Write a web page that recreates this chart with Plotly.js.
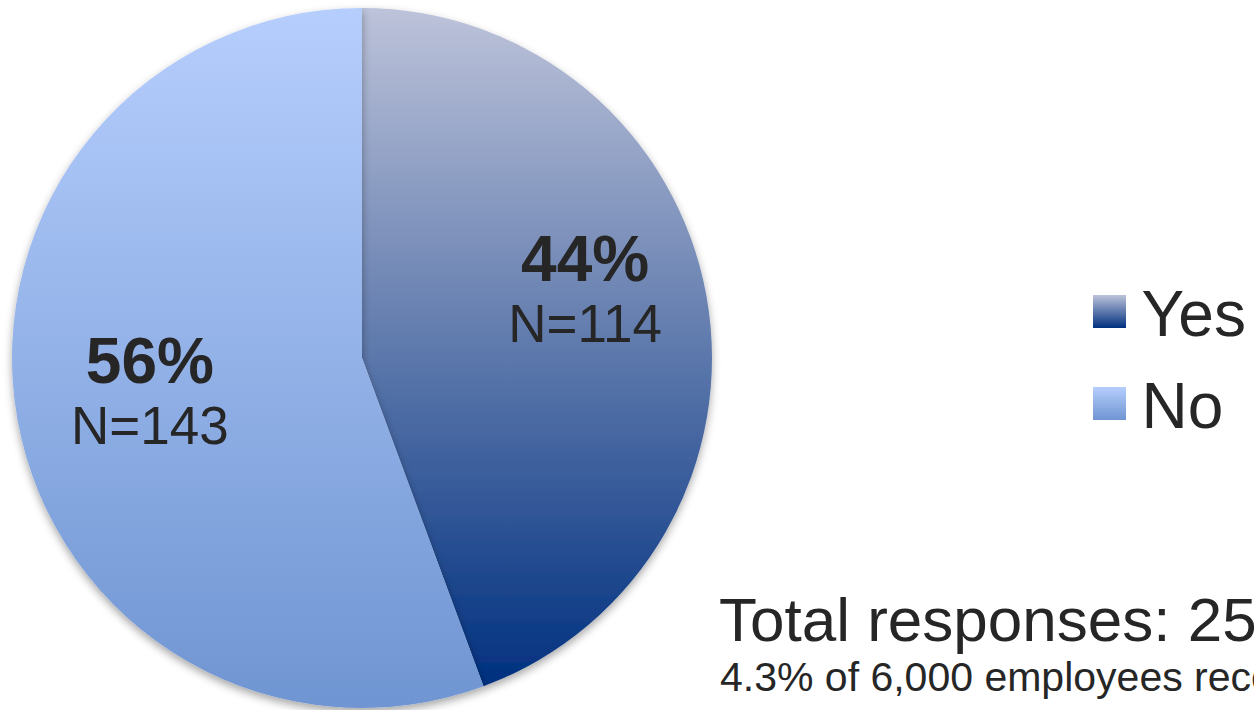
<!DOCTYPE html>
<html>
<head>
<meta charset="utf-8">
<script src="https://cdn.plot.ly/plotly-3.0.1.min.js"></script>
<style>html,body{margin:0;padding:0;background:#fff;overflow:hidden}</style>
</head>
<body>
<div id="chart" style="width:1254px;height:710px"></div>
<script>
const categories = ["Yes", "No"];
const responses = [114, 143];
const gradientTop = ["#bdc3da", "#b6cefd"];
const gradientBottom = ["#00307f", "#6f95d2"];
const totalLine = "Total responses: 257";
const subLine = "4.3% of 6,000 employees receiving the survey";

// label placement style (fraction of radius, clockwise angle from 12 o'clock)
const labelRadius = [0.668, 0.613];
const labelAngle = [72.6, 261.4];

const FONT = "Liberation Sans, Arial, sans-serif";
const INK = "#262626";

const trace = {
  type: "pie",
  labels: categories,
  values: responses,
  sort: false,
  direction: "clockwise",
  rotation: 0,
  marker: {colors: gradientBottom, line: {width: 0}},
  textposition: "inside",
  insidetextorientation: "horizontal",
  texttemplate: "<span style=\"font-size:64px\"><b>%{percent:.0%}</b></span><br><span style=\"font-size:53px\">N=%{value}</span>",
  insidetextfont: {family: FONT, size: 47, color: INK},
  hoverinfo: "none",
  domain: {x: [12/1254, 712/1254], y: [2/710, 702/710]}
};

const layout = {
  width: 1254, height: 710,
  margin: {l: 0, r: 0, t: 0, b: 0},
  paper_bgcolor: "#ffffff",
  showlegend: true,
  legend: {x: 1085/1254, y: 1 - 265/710, xanchor: "left", yanchor: "top",
    font: {family: FONT, size: 64, color: INK}, bgcolor: "rgba(0,0,0,0)", itemclick: false},
  annotations: [
    {text: totalLine, xref: "paper", yref: "paper", x: 717/1254, y: 1 - 583/710,
     xanchor: "left", yanchor: "top", showarrow: false, align: "left",
     font: {family: FONT, size: 62, color: INK}},
    {text: subLine, xref: "paper", yref: "paper", x: 718/1254, y: 1 - 652/710,
     xanchor: "left", yanchor: "top", showarrow: false, align: "left",
     font: {family: FONT, size: 41, color: INK}}
  ]
};

Plotly.newPlot("chart", [trace], layout, {staticPlot: true, displayModeBar: false}).then(gd => {
  const NS = "http://www.w3.org/2000/svg";
  const svg = gd.querySelector(".main-svg");
  let defs = svg.querySelector("defs");
  if (!defs) { defs = document.createElementNS(NS, "defs"); svg.insertBefore(defs, svg.firstChild); }
  categories.forEach((c, i) => {
    const g = document.createElementNS(NS, "linearGradient");
    g.setAttribute("id", "grad" + i);
    g.setAttribute("x1", "0"); g.setAttribute("y1", "0");
    g.setAttribute("x2", "0"); g.setAttribute("y2", "1");
    [[0, gradientTop[i]], [1, gradientBottom[i]]].forEach(([o, col]) => {
      const s = document.createElementNS(NS, "stop");
      s.setAttribute("offset", o);
      s.setAttribute("stop-color", col);
      g.appendChild(s);
    });
    defs.appendChild(g);
  });
  const f = document.createElementNS(NS, "filter");
  f.setAttribute("id", "pieShadow");
  f.setAttribute("x", "-10%"); f.setAttribute("y", "-10%");
  f.setAttribute("width", "120%"); f.setAttribute("height", "120%");
  f.innerHTML = '<feDropShadow dx="0" dy="4" stdDeviation="4" flood-color="#000" flood-opacity="0.35"/>';
  defs.appendChild(f);

  const slices = gd.querySelectorAll(".slice path.surface");
  slices.forEach((p, i) => {
    p.style.fill = "url(#grad" + i + ")";
    p.setAttribute("filter", "url(#pieShadow)");
  });

  // reposition slice labels radially
  const cd0 = gd.calcdata[0][0];
  const cx = cd0.cx, cy = cd0.cy, R = cd0.r;
  const svgRect = svg.getBoundingClientRect();
  gd.querySelectorAll(".slice").forEach((sl, i) => {
    const t = sl.querySelector("text.slicetext");
    if (!t) return;
    const r = t.getBoundingClientRect();
    const curX = r.left + r.width / 2 - svgRect.left;
    const curY = r.top + r.height / 2 - svgRect.top;
    const a = labelAngle[i] * Math.PI / 180;
    const tx = cx + labelRadius[i] * R * Math.sin(a);
    const ty = cy - labelRadius[i] * R * Math.cos(a);
    const g = t.parentNode;
    const wrap = document.createElementNS(NS, "g");
    wrap.setAttribute("transform", "translate(" + (tx - curX) + "," + (ty - curY) + ")");
    g.insertBefore(wrap, t);
    wrap.appendChild(t);
  });

  // legend styling
  const sb = gd.querySelector(".legend .scrollbox");
  if (sb) sb.removeAttribute("clip-path");
  const lg = gd.querySelector(".legend");
  if (lg) lg.removeAttribute("clip-path");
  gd.querySelectorAll(".legend .traces").forEach((it, i) => {
    const p = it.querySelector(".legendpoints path");
    p.setAttribute("d", "M16.5,16.5H-16.5V-16.5H16.5Z");
    p.style.fill = "url(#grad" + i + ")";
    p.style.stroke = "none";
    const pr = p.getBoundingClientRect();
    const dx = 1093 - (pr.left - svgRect.left);
    const dy = 295 + 92 * i - (pr.top - svgRect.top);
    it.setAttribute("transform", "translate(" + dx + "," + dy + ") " + (it.getAttribute("transform") || ""));
    const txt = it.querySelector(".legendtext");
    txt.setAttribute("x", parseFloat(txt.getAttribute("x")) + 12);
  });
});
</script>
</body>
</html>
